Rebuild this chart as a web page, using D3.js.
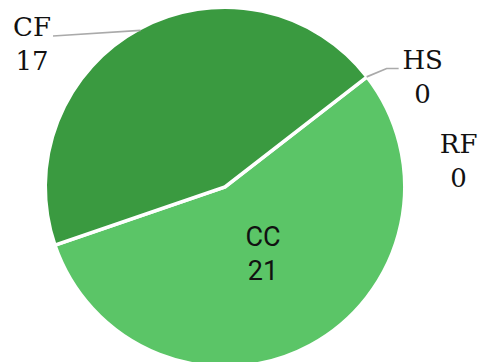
<!DOCTYPE html>
<html><head><meta charset="utf-8">
<script src="https://cdn.jsdelivr.net/npm/d3@7"></script>
<style>html,body{margin:0;padding:0;background:#fff;}svg{display:block;}</style>
</head><body>
<svg id="chart" width="478" height="362"></svg>
<script>
const categories = ["CC", "CF", "HS", "RF"];
const values = [21, 17, 0, 0];
const colors = ["#5bc567", "#3a9a40", "#2e7d32", "#1b5e20"];

const W = 478, H = 362;
const cx = 225, cy = 187, R = 179.8;
const startDeg = 52.2;

const svg = d3.select("#chart");
const g = svg.append("g").attr("transform", `translate(${cx},${cy})`);

const data = categories.map((c, i) => ({ cat: c, value: values[i], color: colors[i] }));
const pie = d3.pie().sort(null).value(d => d.value)
  .startAngle(startDeg * Math.PI / 180)
  .endAngle(startDeg * Math.PI / 180 + 2 * Math.PI);
const arcs = pie(data);
const arc = d3.arc().innerRadius(0).outerRadius(R);

g.selectAll("path.slice").data(arcs.filter(a => a.data.value > 0)).join("path")
  .attr("class", "slice")
  .attr("d", arc)
  .attr("fill", d => d.data.color)
  .attr("stroke", "#fff").attr("stroke-width", 3.6).attr("stroke-linejoin", "miter");

const Rv = R - 1.8;
function edgePoint(a) {
  const m = (a.startAngle + a.endAngle) / 2;
  return [Rv * Math.sin(m), -Rv * Math.cos(m)];
}

const lineH = 34;
function label(x, y, lines, anchor, family, size) {
  const t = g.append("text").attr("text-anchor", anchor)
    .attr("font-family", family).attr("font-size", size).attr("fill", "#111");
  lines.forEach((s, i) => t.append("tspan").attr("x", x).attr("y", y + i * lineH).text(s));
}

const byCat = {};
arcs.forEach(a => byCat[a.data.cat] = a);

// CC inside label
{
  const a = byCat["CC"];
  const m = (a.startAngle + a.endAngle) / 2;
  const r = R * 0.445;
  const x = r * Math.sin(m), y = -r * Math.cos(m);
  label(x, y - 11, [a.data.cat, String(a.data.value)], "middle", "Roboto, 'Noto Sans', sans-serif", 27);
}

const serif = "'DejaVu Serif', 'Liberation Serif', serif";
// CF outside label
{
  const a = byCat["CF"];
  const [px, py] = edgePoint(a);
  const lx = -cx + 53, ly = -cy + 36;
  g.append("path").attr("d", d3.line()([[px, py], [lx, ly]]))
    .attr("stroke", "#aaa").attr("stroke-width", 1.7).attr("fill", "none");
  label(lx - 21, ly, [a.data.cat, String(a.data.value)], "middle", serif, 26);
}
// HS outside label
{
  const a = byCat["HS"];
  const [px, py] = edgePoint(a);
  const ly = -cy + 68.5;
  g.append("path").attr("d", d3.line()([[px + 1, py - 1], [px + 21, ly], [px + 33, ly]]))
    .attr("stroke", "#aaa").attr("stroke-width", 1.7).attr("fill", "none");
  label(px + 57, ly, [a.data.cat, String(a.data.value)], "middle", serif, 26);
}
// RF outside label (stacked below HS)
{
  const a = byCat["RF"];
  const [px, py] = edgePoint(a);
  label(px + 93, -cy + 153, [a.data.cat, String(a.data.value)], "middle", serif, 26);
}
</script>
</body></html>
